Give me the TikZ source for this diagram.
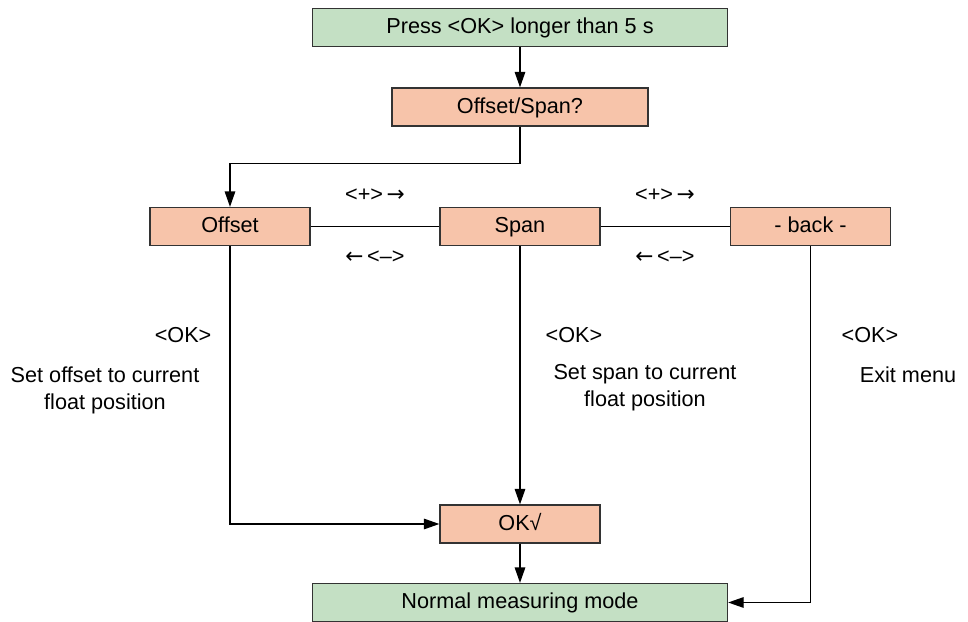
\documentclass[tikz,border=0pt]{standalone}
\usepackage{fontspec}
\setmainfont{Liberation Sans}
\newfontfamily\arrowfont{DejaVu Sans}
\usetikzlibrary{arrows.meta}
\definecolor{boxgreen}{RGB}{196,224,196}
\definecolor{boxsalmon}{RGB}{247,196,170}
\newcommand{\ra}{\,{\arrowfont →}}
\newcommand{\la}{{\arrowfont ←}\,}
\tikzset{
  box/.style={draw=black!80,line width=0.9pt,inner sep=0pt,minimum height=0.95cm,
    text height=0.88em,text depth=0pt},
  greenbox/.style={box,fill=boxgreen,minimum width=10.375cm},
  stepbox/.style={box,fill=boxsalmon,minimum width=4cm},
  arr/.style={-{Triangle[length=11pt,width=7.5pt]}},
  lbl/.style={inner sep=0pt,align=center}
}
\begin{document}
\begin{tikzpicture}[x=0.025cm,y=-0.025cm,line width=0.9pt,
  font=\fontsize{15.4}{19.2}\selectfont]
\useasboundingbox (0,0) rectangle (968,622);
% boxes
\node[greenbox] (press) at (520,27.5) {Press <OK> longer than 5 s};
\node[stepbox,minimum width=6.4cm] (ask) at (520,107) {Offset/Span?};
\node[stepbox] (offset) at (230,226.5) {Offset};
\node[stepbox] (span) at (520,226.5) {Span};
\node[stepbox] (back) at (810.5,226.5) {- back -};
\node[stepbox] (ok) at (520,524) {OK√};
\node[greenbox] (normal) at (520,602.5) {Normal measuring mode};
% key labels
\node[lbl] (plusa) at (375,195) {<+>\ra};
\node[lbl] (minusa) at (375,257) {\la<–>};
\node[lbl] (plusb) at (665,195) {<+>\ra};
\node[lbl] (minusb) at (665,257) {\la<–>};
\node[lbl,anchor=east] (oka) at (212,335) {<OK>};
\node[lbl] (seta) at (105,390) {Set offset to current\\float position};
\node[lbl] (okb) at (574,335) {<OK>};
\node[lbl] (setb) at (645,388) {Set span to current\\float position};
\node[lbl] (okc) at (870,335) {<OK>};
\node[lbl] (exit) at (908,375) {Exit menu};
% connectors
\draw[arr] (press) -- (ask);
\draw[arr] (ask.south) -- ++(0,37) -| (offset.north);
\draw (offset) -- (span);
\draw (span) -- (back);
\draw[arr] (offset.south) |- (ok.west);
\draw[arr] (span) -- (ok);
\draw[arr] (ok) -- (normal);
\draw[arr] (back.south) |- (normal.east);
\end{tikzpicture}
\end{document}
